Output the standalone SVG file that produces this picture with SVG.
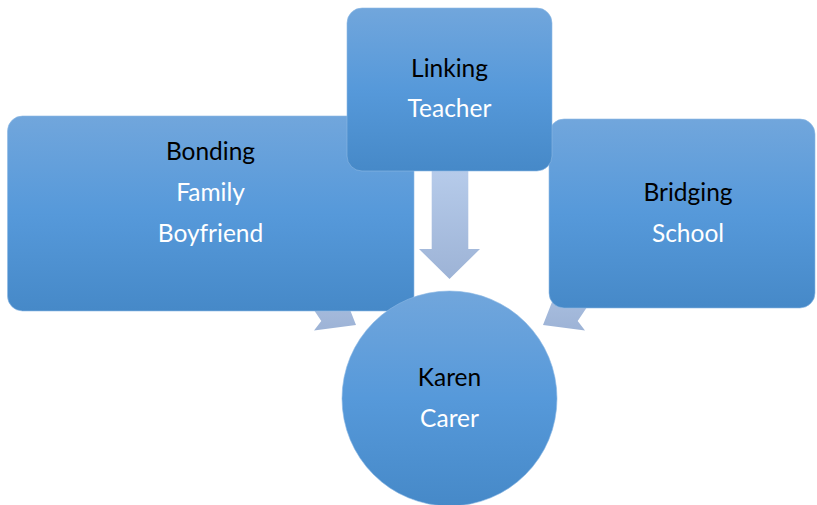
<svg xmlns="http://www.w3.org/2000/svg" width="817" height="505" viewBox="0 0 817 505">
<defs>
<linearGradient id="gBox" x1="0" y1="0" x2="0" y2="1">
<stop offset="0" stop-color="#71A6DC"/>
<stop offset="0.5" stop-color="#5699DA"/>
<stop offset="1" stop-color="#4689C8"/>
</linearGradient>
<linearGradient id="gArrow" x1="0" y1="0" x2="0" y2="1">
<stop offset="0" stop-color="#B6CBEA"/>
<stop offset="1" stop-color="#9DB3D6"/>
</linearGradient>
</defs>
<style>
.node{fill:url(#gBox);stroke:#8DB8E4;stroke-width:0.6}
.arrow{fill:url(#gArrow)}
.t{font-family:"Lato","Open Sans","Liberation Sans",sans-serif;font-size:24.5px;text-anchor:middle}
.h{fill:#000}
.s{fill:#FFFFFF}
</style>
<g id="connectors">
<polygon class="arrow" points="431.7,171 468.3,171 468.3,249 480,249 449.5,279 419,249 431.7,249"/>
<polygon class="arrow" points="292,252 306.3,270.5 332.3,306.7 343.3,292.5 356,325 314,330.4 321.3,320.9 279,258"/>
<polygon class="arrow" points="607,252 592.7,270.5 566.7,306.7 555.7,292.5 543,325 585,330.4 577.7,320.9 620,258"/>
</g>
<g id="bonding">
<rect class="node" x="7.5" y="116" width="406.5" height="195" rx="15"/>
<text class="t h" x="210.5" y="160">Bonding</text>
<text class="t s" x="210.5" y="200.7">Family</text>
<text class="t s" x="210.5" y="241.7">Boyfriend</text>
</g>
<g id="bridging">
<rect class="node" x="549" y="119" width="266" height="189" rx="15"/>
<text class="t h" x="688" y="200.7">Bridging</text>
<text class="t s" x="688" y="241.7">School</text>
</g>
<g id="linking">
<rect class="node" x="347" y="8" width="205" height="163" rx="15"/>
<text class="t h" x="449.5" y="76.7">Linking</text>
<text class="t s" x="449.5" y="117.3">Teacher</text>
</g>
<g id="karen">
<circle class="node" cx="449.5" cy="398.5" r="107.5"/>
<text class="t h" x="449.5" y="386">Karen</text>
<text class="t s" x="449.5" y="426.7">Carer</text>
</g>
</svg>
